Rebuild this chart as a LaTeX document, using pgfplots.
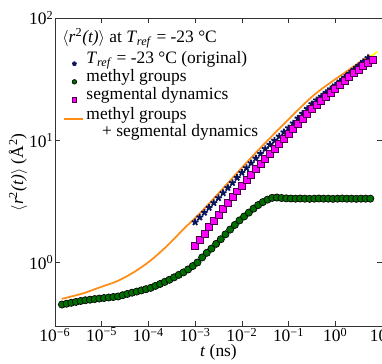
\documentclass[border=0pt]{standalone}
\usepackage{fontspec}
\setmainfont{Liberation Serif}
\usepackage{pgfplots}
\pgfplotsset{compat=1.18}
\definecolor{navyc}{RGB}{10,20,90}
\definecolor{greenc}{RGB}{0,110,0}
\definecolor{magc}{RGB}{255,0,255}
\definecolor{orangec}{RGB}{255,140,20}
\definecolor{yellowc}{RGB}{255,255,0}
\newcommand{\logtick}[1]{10\textsuperscript{\pgfmathtruncatemacro{\ee}{round(#1)}\ifnum\ee<0 \char"2212\relax\number-\ee\else\ee\fi}}
\newcommand{\fs}{\fontsize{13}{14.5}\selectfont}
\begin{document}
\fs
\begin{tikzpicture}
\begin{axis}[
  scale only axis, width=244pt, height=230pt,
  xmode=log, ymode=log, log basis x=10, log basis y=10,
  xmin=1e-6, xmax=10, ymin=0.3, ymax=100,
  xtick={1e-6,1e-5,1e-4,1e-3,1e-2,1e-1,1,10},
  ytick={1,10,100},
  xticklabel={\logtick{\tick}}, yticklabel={\logtick{\tick}},
  tick align=inside, major tick length=4pt, minor tick length=2pt,
  axis line style={black!80}, every tick/.style={black!80},
  tick label style={font=\fs},
  xticklabel style={inner sep=1pt}, yticklabel style={inner sep=1pt},
  xlabel={\textit{t} (ns)}, ylabel={$\langle$\textit{r}\textsuperscript{2}\textit{(t)}$\rangle$ (Å\textsuperscript{2})},
  label style={font=\fs},
  xlabel style={yshift=4pt}, ylabel style={yshift=-4pt},
  legend style={at={(0.02,0.905)}, anchor=north west, draw=none, fill=none,
    font=\fs, row sep=-1.5pt, inner sep=1pt,
    cells={anchor=base west}},
  legend image code/.code={\draw[mark repeat=2,mark phase=2] plot coordinates {(0cm,0cm) (0.22cm,0cm) (0.44cm,0cm)};},
  legend image post style={mark size=1.7pt},
]
% stars
\addplot[only marks, mark=star, mark size=2.6pt, mark options={draw=navyc, fill=navyc, line width=1.4pt}] coordinates {
(1.000e-3,2.138)(1.259e-3,2.344)(1.585e-3,2.564)(1.995e-3,2.812)(2.512e-3,3.076)(3.162e-3,3.373)(3.981e-3,3.707)(5.012e-3,4.083)(6.310e-3,4.487)(7.943e-3,4.943)
(1.000e-2,5.433)(1.259e-2,5.943)(1.585e-2,6.501)(1.995e-2,7.112)(2.512e-2,7.780)(3.162e-2,8.511)(3.981e-2,9.204)(5.012e-2,9.954)(6.310e-2,10.76)(7.943e-2,11.64)
(0.1000,12.59)(0.1259,13.77)(0.1585,15.10)(0.1995,16.52)(0.2512,18.11)(0.3162,19.82)(0.3981,21.28)(0.5012,22.80)(0.6310,24.49)(0.7943,26.24)
(1.000,28.18)(1.259,30.34)(1.585,32.66)(1.995,35.16)(2.512,37.84)(3.162,40.74)(3.981,43.85)(5.012,47.21)
};
\addlegendentry{\textit{T}\textsubscript{\textit{ref}} = -23 °C (original)}
% green circles
\addplot[only marks, mark=*, mark size=2.7pt, mark options={draw=black, fill=greenc, line width=0.5pt}] coordinates {
(1.413e-6,0.453)(1.778e-6,0.460)(2.239e-6,0.468)(2.818e-6,0.476)(3.548e-6,0.484)(4.467e-6,0.491)(5.623e-6,0.496)(7.079e-6,0.502)(8.913e-6,0.507)
(1.122e-5,0.512)(1.413e-5,0.517)(1.778e-5,0.522)(2.239e-5,0.527)(2.818e-5,0.540)(3.548e-5,0.553)(4.467e-5,0.566)(5.623e-5,0.578)(7.079e-5,0.591)(8.913e-5,0.605)
(1.122e-4,0.620)(1.413e-4,0.643)(1.778e-4,0.667)(2.239e-4,0.694)(2.818e-4,0.722)(3.548e-4,0.756)(4.467e-4,0.792)(5.623e-4,0.830)(7.079e-4,0.877)(8.913e-4,0.935)
(1.122e-3,1.00)(1.413e-3,1.10)(1.778e-3,1.20)(2.239e-3,1.30)(2.818e-3,1.42)(3.548e-3,1.55)(4.467e-3,1.70)(5.623e-3,1.86)(7.079e-3,2.03)(8.913e-3,2.21)
(1.122e-2,2.38)(1.413e-2,2.56)(1.778e-2,2.76)(2.239e-2,2.95)(2.818e-2,3.12)(3.548e-2,3.27)(4.467e-2,3.38)(5.623e-2,3.40)(7.079e-2,3.37)(8.913e-2,3.35)
(0.1122,3.34)(0.1413,3.33)(0.1778,3.34)(0.2239,3.33)(0.2818,3.32)(0.3548,3.33)(0.4467,3.34)(0.5623,3.33)(0.7079,3.33)(0.8913,3.32)
(1.122,3.33)(1.413,3.34)(1.778,3.33)(2.239,3.33)(2.818,3.32)(3.548,3.33)(4.467,3.33)(5.623,3.33)
};
\addlegendentry{methyl groups}
% magenta squares
\addplot[only marks, mark=square*, mark size=2.6pt, mark options={draw=black!70!magc, fill=magc, line width=0.6pt}] coordinates {
(1.000e-3,1.365)(1.259e-3,1.535)(1.585e-3,1.726)(1.995e-3,1.941)(2.512e-3,2.183)(3.162e-3,2.455)(3.981e-3,2.742)(5.012e-3,3.062)(6.310e-3,3.420)(7.943e-3,3.819)
(1.000e-2,4.266)(1.259e-2,4.721)(1.585e-2,5.224)(1.995e-2,5.781)(2.512e-2,6.397)(3.162e-2,7.079)(3.981e-2,7.762)(5.012e-2,8.511)(6.310e-2,9.333)(7.943e-2,10.23)
(0.1000,11.22)(0.1259,12.36)(0.1585,13.61)(0.1995,15.00)(0.2512,16.52)(0.3162,18.20)(0.3981,19.59)(0.5012,21.09)(0.6310,22.70)(0.7943,24.43)
(1.000,26.30)(1.259,28.31)(1.585,30.48)(1.995,32.81)(2.512,35.32)(3.162,38.02)(3.981,40.46)(5.012,42.95)(6.310,45.71)
};
\addlegendentry{segmental dynamics}
% orange line
\addplot[orangec, line width=1.3pt, smooth, no markers,
  legend image code/.code={\draw[orangec, line width=1.5pt] (-0.05cm,0cm) -- (0.44cm,0cm);}] coordinates {
(1.393e-6,0.504)(4.074e-6,0.56)(9.333e-6,0.628)(2.138e-5,0.703)(4.898e-5,0.833)(1.122e-4,1.04)(2.570e-4,1.38)(5.754e-4,1.89)(1.230e-3,2.50)(3.311e-3,3.75)(1.738e-2,7.5)(8.913e-2,14.2)(0.3656,23.8)(1.905,37.5)(5.598,49.8)
};
\addlegendentry{\begin{tabular}[t]{@{}l@{}}methyl groups\\[-1.5pt]\hspace{0.9em}+ segmental dynamics\end{tabular}}
% yellow fit line
\addplot[yellowc, line width=1.3pt, smooth, no markers, forget plot] coordinates {
(1.0e-3,1.396)(3.162e-3,2.512)(1.0e-2,4.365)(3.162e-2,7.244)(0.1,11.61)(0.3162,19.05)(1.0,28.18)(3.162,40.74)(7.943,53.09)
};
\node[anchor=base west, font=\fs, inner sep=0pt] at (rel axis cs:0.022,0.92) {$\langle$\textit{r}\textsuperscript{2}\textit{(t)}$\rangle$ at \textit{T}\textsubscript{\textit{ref}} = -23 °C};
\end{axis}
\path (current axis.south west) ++(-41pt,-27.75pt) coordinate (bbA);
\path (current axis.north east) ++(0,13.5pt) coordinate (bbB);
\pgfresetboundingbox
\path (bbA) rectangle (bbB);
\end{tikzpicture}
\end{document}
